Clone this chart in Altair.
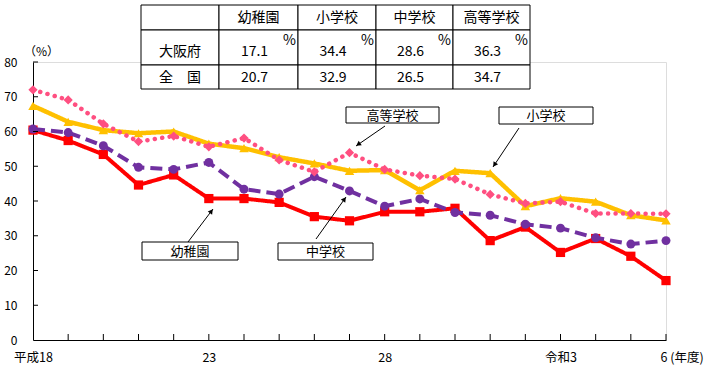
import math
import altair as alt
import pandas as pd

# ---------------- data ----------------
years = list(range(2006, 2025))
kinder = [60.4, 57.4, 53.4, 44.6, 47.5, 40.7, 40.7, 39.6, 35.5, 34.3, 36.9, 36.9, 37.9, 28.6, 32.5, 25.2, 29.2, 24.1, 17.1]
elementary = [67.4, 62.8, 60.4, 59.5, 60.0, 56.5, 55.2, 52.6, 50.8, 48.7, 48.9, 43.1, 48.7, 48.0, 38.5, 40.8, 39.8, 35.9, 34.4]
junior = [60.7, 59.7, 55.9, 49.7, 49.1, 51.1, 43.4, 42.0, 47.0, 42.9, 38.5, 40.6, 36.7, 35.9, 33.3, 32.2, 29.4, 27.6, 28.6]
high = [72.0, 69.1, 62.2, 57.1, 58.7, 55.6, 58.1, 51.8, 48.4, 53.9, 49.1, 47.3, 46.3, 41.9, 39.3, 39.8, 36.4, 36.4, 36.3]

series_names = ["幼稚園", "小学校", "中学校", "高等学校"]

tick_years = [2006, 2011, 2016, 2021, 2024]
tick_labels = ["平成18", "23", "28", "令和3", "6 (年度)"]

table_rows = ["大阪府", "全　国"]
osaka_vals = [17.1, 34.4, 28.6, 36.3]
national_vals = [20.7, 32.9, 26.5, 34.7]

FONT = "Noto Sans CJK JP"

# ---------------- layout helpers (pixel -> data units) ----------------
PX_L, PX_R, PX_T, PX_B = 33, 666, 62, 340
W, H = PX_R - PX_L, PX_B - PX_T


def dx(px):
    return years[0] + (px - PX_L) * (years[-1] - years[0]) / W


def dy(py):
    return (PX_B - py) * 80 / H


x_scale = alt.Scale(domain=[years[0], years[-1]], nice=False, zero=False)
y_scale = alt.Scale(domain=[0, 80], nice=False, zero=True)

label_expr = " : ".join(
    f"datum.value == {y} ? '{t}'" for y, t in zip(tick_years, tick_labels)
) + " : ''"

x_axis = alt.Axis(
    values=tick_years,
    labelExpr=label_expr,
    grid=False,
    ticks=False,
    tickSize=0,
    domainColor="black",
    domainWidth=1,
    labelFontSize=12.5,
    labelColor="black",
    labelPadding=11,
    labelAlign={"condition": {"test": f"datum.value == {tick_years[-1]}", "value": "left"}, "value": "center"},
    labelOffset={"condition": {"test": f"datum.value == {tick_years[-1]}", "value": -6}, "value": 0},
    title=None,
)
y_axis = alt.Axis(
    values=list(range(0, 81, 10)),
    grid=False,
    ticks=False,
    tickSize=0,
    domainColor="black",
    domainWidth=1,
    labelFontSize=12,
    labelColor="black",
    labelPadding=16,
    title="（%）",
    titleAngle=0,
    titleFontSize=12,
    titleFontWeight="normal",
    titleColor="black",
    titleAlign="center",
    titleBaseline="middle",
    titleX=8,
    titleY=-11,
)


def X(field):
    return alt.X(field, type="quantitative", scale=x_scale, axis=x_axis)


def Y(field):
    return alt.Y(field, type="quantitative", scale=y_scale, axis=y_axis)


df = pd.DataFrame({
    "year": years,
    "幼稚園": kinder,
    "小学校": elementary,
    "中学校": junior,
    "高等学校": high,
})

styles = {
    "幼稚園": dict(color="#FF0000", dash=[1, 0], width=4, shape="square", size=85, cap="butt"),
    "中学校": dict(color="#7030A0", dash=[12, 6], width=4, shape="circle", size=80, cap="butt"),
    "小学校": dict(color="#FFC000", dash=[1, 0], width=4.5, shape="triangle-up", size=90, cap="butt"),
    "高等学校": dict(color="#FF4F81", dash=[0.1, 7.4], width=4.5, shape="diamond", size=85, cap="round"),
}

layers = []
for name in ["幼稚園", "中学校", "小学校", "高等学校"]:
    s = styles[name]
    base = alt.Chart(df)
    line = base.mark_line(
        color=s["color"], strokeWidth=s["width"], strokeDash=s["dash"], strokeCap=s["cap"]
    ).encode(x=X("year"), y=Y(name))
    pts = base.mark_point(
        shape=s["shape"], size=s["size"], filled=True, color=s["color"], opacity=1
    ).encode(x=X("year"), y=Y(name))
    layers += [line, pts]

# inside tick marks
xt = pd.DataFrame({"year": years[1:]})
x_ticks = alt.Chart(xt).mark_rule(color="black", strokeWidth=1).encode(
    x=X("year"),
    y=alt.value(H),
    y2=alt.value(H - 6),
)
yt = pd.DataFrame({"v": list(range(10, 81, 10))})
y_ticks = alt.Chart(yt).mark_rule(color="black", strokeWidth=1).encode(
    y=Y("v"),
    x=alt.value(0),
    x2=alt.value(5),
)

# ---------------- annotations ----------------
boxes = [
    # label, x0, x1, y0, y1, arrow start, arrow tip
    ("高等学校", 346, 439, 107, 123, (385, 126), (356, 146)),
    ("小学校", 499, 593, 107, 124, (519, 128), (493, 167)),
    ("中学校", 278, 373, 243, 260, (316, 239), (346, 197)),
    ("幼稚園", 142, 238, 242, 260, (188, 242), (213, 209)),
]
box_rows, arrow_rows, head_rows, box_text = [], [], [], []
for lab, x0, x1, y0, y1, (sx, sy), (tx, ty) in boxes:
    box_rows.append(dict(x=dx(x0), x2=dx(x1), y=dy(y0), y2=dy(y1)))
    box_text.append(dict(x=dx((x0 + x1) / 2), y=dy((y0 + y1) / 2 + 0.5), t=lab))
    arrow_rows.append(dict(x=dx(sx), y=dy(sy), x2=dx(tx), y2=dy(ty)))
    ddx, ddy = tx - sx, ty - sy
    L = math.hypot(ddx, ddy)
    ang = math.degrees(math.atan2(ddx, -ddy)) % 360
    cx, cy = tx - ddx / L * 3.5, ty - ddy / L * 3.5
    head_rows.append(dict(x=dx(cx), y=dy(cy), a=ang))

ann_box = alt.Chart(pd.DataFrame(box_rows)).mark_rect(
    fill="white", stroke="black", strokeWidth=1
).encode(x=X("x"), x2="x2:Q", y=Y("y"), y2="y2:Q")
ann_text = alt.Chart(pd.DataFrame(box_text)).mark_text(
    font=FONT, fontSize=13, color="black", baseline="middle", align="center"
).encode(x=X("x"), y=Y("y"), text="t:N")
ann_line = alt.Chart(pd.DataFrame(arrow_rows)).mark_rule(color="black", strokeWidth=1).encode(
    x=X("x"), x2="x2:Q", y=Y("y"), y2="y2:Q"
)
ann_head = alt.Chart(pd.DataFrame(head_rows)).mark_point(
    shape="triangle", filled=True, color="black", size=30, opacity=1
).encode(x=X("x"), y=Y("y"), angle=alt.Angle("a:Q", scale=None))

# ---------------- table ----------------
col_edges = [141, 219, 298, 376, 453, 530]
row_edges = [5, 30, 65, 89]
cells, ttext = [], []
for r in range(3):
    for c in range(5):
        cells.append(dict(x=dx(col_edges[c]), x2=dx(col_edges[c + 1]),
                          y=dy(row_edges[r]), y2=dy(row_edges[r + 1])))
for i, name in enumerate(series_names):
    cl, cr = col_edges[i + 1], col_edges[i + 2]
    cc = (cl + cr) / 2
    ttext.append(dict(x=dx(cc), y=dy(18), t=name))
    ttext.append(dict(x=dx(cc - 4), y=dy(52), t=f"{osaka_vals[i]:.1f}"))
    ttext.append(dict(x=dx(cr - 8.5), y=dy(41), t="%"))
    ttext.append(dict(x=dx(cc - 4), y=dy(78), t=f"{national_vals[i]:.1f}"))
lc = (col_edges[0] + col_edges[1]) / 2
ttext.append(dict(x=dx(lc), y=dy(52), t=table_rows[0]))
ttext.append(dict(x=dx(lc), y=dy(78), t=table_rows[1]))

tab_cells = alt.Chart(pd.DataFrame(cells)).mark_rect(
    fill="white", stroke="black", strokeWidth=1
).encode(x=X("x"), x2="x2:Q", y=Y("y"), y2="y2:Q")
tab_text = alt.Chart(pd.DataFrame(ttext)).mark_text(
    font=FONT, fontSize=14, color="black", baseline="middle", align="center"
).encode(x=X("x"), y=Y("y"), text="t:N")

chart = alt.layer(
    *layers, x_ticks, y_ticks, ann_line, ann_head, ann_box, ann_text, tab_cells, tab_text
).properties(
    width=W,
    height=H,
    autosize=alt.AutoSizeParams(type="none"),
    padding={"left": PX_L, "top": PX_T, "right": 710 - PX_R, "bottom": 375 - PX_B},
).configure_view(
    stroke=None
).configure(
    font=FONT, background="white"
)

chart.save("out.html", embed_options={"renderer": "svg", "actions": False})
